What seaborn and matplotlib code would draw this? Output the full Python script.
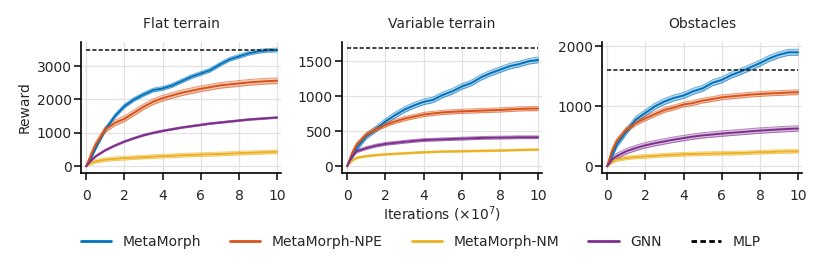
import numpy as np
import pandas as pd
import matplotlib
matplotlib.use("Agg")
import matplotlib.pyplot as plt
import seaborn as sns
from matplotlib.lines import Line2D

# ---------------- data ----------------
iters = [0, 0.25, 0.5, 1, 1.5, 2, 2.5, 3, 3.5, 4, 4.5, 5, 5.5, 6, 6.5, 7, 7.5, 8, 8.5, 9, 9.5, 10]

panels = ["Flat terrain", "Variable terrain", "Obstacles"]
methods = ["MetaMorph", "MetaMorph-NPE", "MetaMorph-NM", "GNN"]

flat_metamorph = [0, 250, 550, 1100, 1500, 1800, 2000, 2150, 2280, 2330, 2420, 2550, 2680, 2780, 2880, 3050, 3200, 3290, 3380, 3440, 3470, 3480]
flat_npe = [0, 330, 650, 1100, 1300, 1420, 1600, 1780, 1930, 2040, 2120, 2200, 2260, 2320, 2370, 2420, 2450, 2480, 2510, 2530, 2550, 2560]
flat_nm = [0, 100, 150, 200, 225, 245, 260, 275, 290, 305, 315, 330, 340, 350, 360, 370, 380, 395, 405, 415, 425, 435]
flat_gnn = [0, 170, 300, 480, 620, 740, 840, 930, 1000, 1060, 1110, 1160, 1200, 1240, 1280, 1310, 1340, 1370, 1400, 1420, 1440, 1460]

var_metamorph = [0, 140, 260, 430, 530, 640, 730, 810, 870, 920, 950, 1020, 1070, 1140, 1190, 1270, 1330, 1380, 1430, 1460, 1500, 1520]
var_npe = [0, 180, 310, 450, 530, 590, 640, 680, 710, 740, 755, 770, 778, 785, 790, 795, 800, 805, 812, 820, 823, 825]
var_nm = [0, 80, 120, 145, 160, 170, 178, 185, 193, 200, 205, 210, 213, 215, 218, 220, 222, 225, 229, 233, 236, 238]
var_gnn = [0, 140, 215, 260, 295, 320, 335, 350, 363, 375, 380, 385, 390, 395, 400, 405, 408, 410, 412, 415, 415, 415]

obs_metamorph = [0, 180, 360, 580, 780, 890, 1000, 1080, 1140, 1180, 1250, 1300, 1390, 1440, 1520, 1580, 1650, 1720, 1800, 1860, 1900, 1900]
obs_npe = [0, 250, 420, 610, 720, 800, 870, 940, 980, 1030, 1055, 1095, 1120, 1150, 1165, 1180, 1195, 1205, 1215, 1220, 1230, 1235]
obs_nm = [0, 80, 110, 140, 155, 165, 175, 185, 193, 200, 205, 210, 213, 215, 218, 222, 228, 235, 240, 245, 248, 250]
obs_gnn = [0, 110, 170, 250, 305, 350, 385, 415, 445, 470, 495, 515, 530, 545, 558, 570, 583, 595, 605, 615, 623, 630]

# half-width of the seed spread (per panel, per method)
flat_spread = [55, 85, 55, 25]
var_spread = [40, 30, 12, 20]
obs_spread = [50, 40, 30, 45]

mlp_reward = [3480, 1690, 1600]

y_ticks = [[0, 1000, 2000, 3000], [0, 500, 1000, 1500], [0, 1000, 2000]]
y_limits = [(-200, 3720), (-96, 1776), (-112, 2072)]
x_ticks = [0, 2, 4, 6, 8, 10]

curves = [
    [flat_metamorph, flat_npe, flat_nm, flat_gnn],
    [var_metamorph, var_npe, var_nm, var_gnn],
    [obs_metamorph, obs_npe, obs_nm, obs_gnn],
]
spreads = [flat_spread, var_spread, obs_spread]

# ---------------- style ----------------
colors = ["#0072BD", "#D95319", "#EDB120", "#7E2F8E"]
sns.set_style("ticks", {"axes.grid": True, "grid.color": "#e2e2e2"})
plt.rcParams["font.family"] = ["DejaVu Sans"]
plt.rcParams["font.size"] = 10
plt.rcParams["axes.edgecolor"] = "black"
plt.rcParams["axes.linewidth"] = 1.2

fig = plt.figure(figsize=(8.31, 2.74), dpi=100)
lefts = [81 / 831, 342 / 831, 602 / 831]
width = 200 / 831
bottom = 1 - 173 / 274
height = (173 - 42) / 274

rows = []
for p, name in enumerate(panels):
    for m, meth in enumerate(methods):
        for x, y in zip(iters, curves[p][m]):
            rows.append({"panel": name, "method": meth, "iter": x, "reward": y})
df = pd.DataFrame(rows)

for p, name in enumerate(panels):
    ax = fig.add_axes([lefts[p], bottom, width, height])
    sub = df[df.panel == name]
    for m, meth in enumerate(methods):
        d = sub[sub.method == meth]
        yv = np.asarray(d.reward, dtype=float)
        s = spreads[p][m]
        lo = np.maximum(yv - s, 0)
        hi = yv + s
        lo[0] = hi[0] = 0
        ax.fill_between(d.iter, lo, hi, color=colors[m], alpha=0.3, lw=0, zorder=2)
        ax.plot(d.iter, lo, color=colors[m], lw=0.7, alpha=0.6, zorder=2)
        ax.plot(d.iter, hi, color=colors[m], lw=0.7, alpha=0.6, zorder=2)
        sns.lineplot(x=d.iter, y=yv, ax=ax, color=colors[m], lw=1.4, zorder=3)
    ax.plot([0, 10], [mlp_reward[p], mlp_reward[p]], color="#222222",
            lw=1.2, linestyle=(0, (2.5, 1.3)), zorder=4)
    ax.set_xlim(-0.27, 10.2)
    ax.set_ylim(*y_limits[p])
    ax.set_xticks(x_ticks)
    ax.set_yticks(y_ticks[p])
    ax.tick_params(axis="both", length=5, width=1.1, labelsize=10, color="black")
    ax.tick_params(axis="x", pad=6.5)
    ax.tick_params(axis="y", pad=1.8)
    ax.grid(True, color="#e2e2e2", lw=0.9)
    ax.set_title(name, fontsize=10, pad=10)
    ax.set_xlabel("")
    ax.set_ylabel("")
    sns.despine(ax=ax)
    if p == 0:
        ax.set_ylabel("Reward", fontsize=10, labelpad=3.5)
    if p == 1:
        ax.set_xlabel(r"Iterations ($\times 10^7$)", fontsize=10, labelpad=1)

handles = [Line2D([0], [0], color=c, lw=2.0) for c in colors]
handles.append(Line2D([0], [0], color="black", lw=2.0, linestyle=(0, (2, 1.2))))
labels = methods + ["MLP"]
fig.legend(handles, labels, loc="center", bbox_to_anchor=(0.506, 1 - 242 / 274),
           ncol=5, frameon=False, fontsize=10, handlelength=2.2,
           handletextpad=0.8, columnspacing=2.1)

fig.savefig("out.png", dpi=100)
